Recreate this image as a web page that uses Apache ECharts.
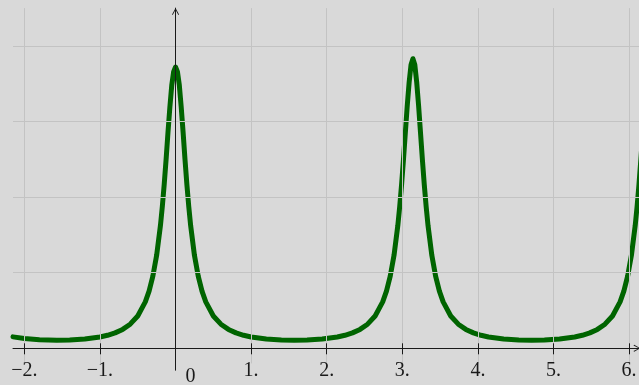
<!DOCTYPE html>
<html>
<head>
<meta charset="utf-8">
<script src="https://cdn.jsdelivr.net/npm/echarts@6/dist/echarts.min.js"></script>
<style>
html,body{margin:0;padding:0;background:#d9d9d9;}
#c{width:639px;height:385px;}
</style>
</head>
<body>
<div id="c"></div>
<script>
// x sample positions and curve values
var xs = [-2.15,-2.0,-1.8,-1.57,-1.4,-1.2,-1.0,-0.9,-0.8,-0.7,-0.6,-0.5,-0.4,-0.35,-0.3,-0.25,-0.2,-0.175,-0.15,-0.125,-0.1,-0.075,-0.05,-0.025,0,
  0.025,0.05,0.075,0.1,0.125,0.15,0.175,0.2,0.25,0.3,0.35,0.4,0.5,0.6,0.7,0.8,0.9,1.0,1.2,1.4,1.57,
  1.74,1.94,2.14,2.24,2.34,2.44,2.54,2.64,2.74,2.79,2.84,2.89,2.94,2.965,2.99,3.015,3.04,3.065,3.09,3.115,3.14,
  3.165,3.19,3.215,3.24,3.265,3.29,3.315,3.34,3.39,3.44,3.49,3.54,3.64,3.74,3.84,3.94,4.04,4.14,4.34,4.54,4.71,
  4.88,5.08,5.28,5.38,5.48,5.58,5.68,5.78,5.88,5.93,5.98,6.03,6.08,6.105,6.13,6.155,6.18,6.205,6.23];
var ys = [0.151,0.130,0.114,0.108,0.111,0.123,0.150,0.172,0.204,0.250,0.319,0.428,0.614,0.757,0.954,1.230,1.622,1.874,2.166,2.498,2.857,3.19,3.48,3.66,3.72,
  3.66,3.48,3.19,2.857,2.498,2.166,1.874,1.622,1.230,0.954,0.757,0.614,0.428,0.319,0.250,0.204,0.172,0.150,0.123,0.111,0.108,
  0.111,0.123,0.150,0.172,0.204,0.250,0.319,0.428,0.614,0.757,0.954,1.230,1.622,1.874,2.166,2.498,2.857,3.21,3.52,3.75,3.83,
  3.75,3.52,3.21,2.857,2.498,2.166,1.874,1.622,1.230,0.954,0.757,0.614,0.428,0.319,0.250,0.204,0.172,0.150,0.123,0.111,0.108,
  0.111,0.123,0.150,0.172,0.204,0.250,0.319,0.428,0.614,0.757,0.954,1.230,1.622,1.874,2.166,2.498,2.857,3.218,3.539];
var xTicks = [-2,-1,0,1,2,3,4,5,6];
var yGrid = [1,2,3,4];

var X_MIN = -2.15, X_MAX = 6.15, Y_MIN = -0.29, Y_MAX = 4.5, GRID_BOTTOM = -0.2;
var curve = xs.map(function(x,i){return [x, ys[i]];});

var gridLines = [];
xTicks.forEach(function(v){ gridLines.push([{coord:[v,GRID_BOTTOM]},{coord:[v,Y_MAX]}]); });
yGrid.forEach(function(v){ gridLines.push([{coord:[X_MIN,v]},{coord:[X_MAX,v]}]); });

var chev = 'path://M0,9 L5,0 L10,9 L9,10 L5,2.2 L1,10 Z';
var U = 75.6;
var font = '"Liberation Serif", "DejaVu Serif", serif';

var chart = echarts.init(document.getElementById('c'), null, {renderer:'canvas'});
chart.setOption({
  backgroundColor:'#d9d9d9',
  animation:false,
  grid:[
    {left:13, top:8.1, width:(X_MAX-X_MIN)*U, height:(Y_MAX-Y_MIN)*U, containLabel:false, outerBoundsMode:'none'},
    {left:175.5-3*U, top:8.1, width:10*U, height:4.5*U, containLabel:false, outerBoundsMode:'none'}
  ],
  xAxis:[
    {type:'value', gridIndex:0, min:X_MIN, max:X_MAX, z:10,
     axisLine:{show:true, onZero:true, symbol:['none',chev], symbolSize:[9,7], symbolOffset:[0,-3.5], lineStyle:{color:'#1a1a1a', width:1}},
     axisTick:{show:false}, axisLabel:{show:false}, splitLine:{show:false}},
    {type:'value', gridIndex:1, min:-3, max:7, interval:1, position:'bottom', z:10,
     axisLine:{show:false, onZero:false},
     axisTick:{show:true, length:6, lineStyle:{color:'#1a1a1a', width:1}},
     axisLabel:{show:true, margin:12, color:'#1a1a1a', fontFamily:font, fontSize:20,
       formatter:function(v){ if(v===0) return '{z|0}'; return (v<0?'\u2212'+Math.abs(v):v)+'.'; },
       rich:{z:{fontFamily:font, fontSize:20, color:'#1a1a1a', padding:[6,0,0,30]}}},
     splitLine:{show:false}},
    {type:'value', gridIndex:1, min:-3, max:7, interval:1, position:'bottom', z:10,
     axisLine:{show:false, onZero:false},
     axisTick:{show:true, inside:true, length:5, lineStyle:{color:'#1a1a1a', width:1}},
     axisLabel:{show:false}, splitLine:{show:false}}
  ],
  yAxis:[
    {type:'value', gridIndex:0, min:Y_MIN, max:Y_MAX, z:10,
     axisLine:{show:true, onZero:true, symbol:['none',chev], symbolSize:[9,7], symbolOffset:[0,-3.5], lineStyle:{color:'#1a1a1a', width:1}},
     axisTick:{show:false}, axisLabel:{show:false}, splitLine:{show:false}},
    {type:'value', gridIndex:1, min:0, max:4.5, show:false}
  ],
  series:[
    {type:'line', xAxisIndex:0, yAxisIndex:0, data:[], z:1, silent:true,
     markLine:{silent:true, symbol:['none','none'], label:{show:false},
       lineStyle:{color:'#c3c3c3', width:1, type:'solid'}, data:gridLines}},
    {type:'line', xAxisIndex:0, yAxisIndex:0, data:curve, z:2, showSymbol:false, clip:true,
     lineStyle:{color:'#006400', width:5, join:'round', cap:'round'}}
  ]
});
</script>
</body>
</html>
